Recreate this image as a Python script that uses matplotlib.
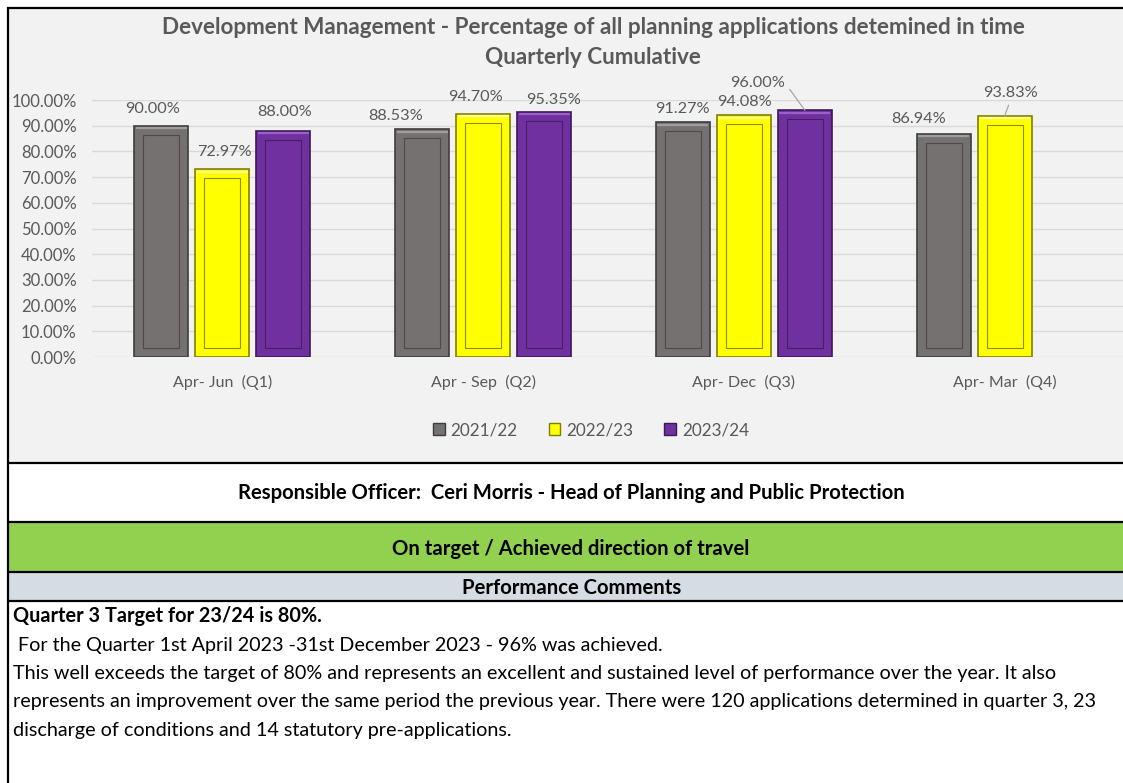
import numpy as np
import matplotlib
matplotlib.use("Agg")
import matplotlib.pyplot as plt
from matplotlib.patches import Rectangle, Patch
from matplotlib.ticker import FuncFormatter

plt.rcParams['font.family'] = ['Lato', 'DejaVu Sans']

# data
quarters = ['Apr- Jun  (Q1)', 'Apr - Sep  (Q2)', 'Apr- Dec  (Q3)', 'Apr- Mar  (Q4)']
series_names = ['2021/22', '2022/23', '2023/24']
pct_2122 = [90.00, 88.53, 91.27, 86.94]
pct_2223 = [72.97, 94.70, 94.08, 93.83]
pct_2324 = [88.00, 95.35, 96.00, np.nan]

title_lines = ["Development Management - Percentage of all planning applications detemined in time",
               "Quarterly Cumulative"]
officer = "Responsible Officer:  Ceri Morris - Head of Planning and Public Protection"
status = "On target / Achieved direction of travel"
comments_head = "Performance Comments"
comment_bold = "Quarter 3 Target for 23/24 is 80%."
comment_lines = [
    " For the Quarter 1st April 2023 -31st December 2023 - 96% was achieved.",
    "This well exceeds the target of 80% and represents an excellent and sustained level of performance over the year. It also",
    "represents an improvement over the same period the previous year. There were 120 applications determined in quarter 3, 23",
    "discharge of conditions and 14 statutory pre-applications.",
]

# styling
faces = ['#767171', '#ffff00', '#7030a0']
edges = ['#3f3d3d', '#7f7f00', '#3b1858']
inner_edges = ['#4d4a4a', '#8c8c00', '#43205f']
highlights = ['#a19d9d', '#ffff99', '#9a62c6']
# label offsets in pixels (dx, dy above bar top), as placed in the original
label_off = [
    [(-9, 17), (-26, 13), (0, 13), (-25, 15)],
    [(2, 17), (-8, 17), (1, 13), (6, 23)],
    [(1, 19), (9, 12), (-47, 27), None],
]
leaders = {(2, 2): (1.0, 0.5), (1, 3): (0.5, 0.0)}
txt_grey = '#595959'

W, H = 1123, 783
fig = plt.figure(figsize=(W / 100, H / 100), dpi=100)
fig.patch.set_facecolor('white')

# background panels in pixel coordinates
bg = fig.add_axes([0, 0, 1, 1])
bg.set_xlim(0, W)
bg.set_ylim(H, 0)
bg.axis('off')
bg.add_patch(Rectangle((8, 8), W, 455, facecolor='#f2f2f2', edgecolor='none'))
bg.add_patch(Rectangle((8, 523), W, 49, facecolor='#92d050', edgecolor='none'))
bg.add_patch(Rectangle((8, 573), W, 28, facecolor='#d6dce4', edgecolor='none'))
for yy in [8, 463, 522, 572, 601]:
    bg.plot([7, W], [yy, yy], color='black', lw=1.6, solid_capstyle='butt')
bg.plot([8, 8], [7, H], color='black', lw=1.6, solid_capstyle='butt')

for i, t in enumerate(title_lines):
    bg.text(593, 27 + i * 30, t, ha='center', va='center', fontsize=16.2, fontweight='bold',
            color=txt_grey)
bg.text(571, 493, officer, ha='center', va='center', fontsize=14.6, fontweight='bold', color='black')
bg.text(571, 549, status, ha='center', va='center', fontsize=14.6, fontweight='bold', color='black')
bg.text(572, 588, comments_head, ha='center', va='center', fontsize=14.6, fontweight='bold', color='black')
bg.text(13, 616, comment_bold, ha='left', va='center', fontsize=14.3, fontweight='bold', color='black')
for i, line in enumerate(comment_lines):
    bg.text(13, 645 + i * 28.5, line, ha='left', va='center', fontsize=14.2, color='black')

# chart axes
left, right, top, bottom = 92, W, 100, 357
cat_px = 260.75
ax = fig.add_axes([left / W, 1 - bottom / H, (right - left) / W, (bottom - top) / H])
ax.set_facecolor('none')
ax.set_xlim(-0.5, -0.5 + (right - left) / cat_px)
ax.set_ylim(0, 100)

bw = 54 / cat_px
step = 61 / cat_px
ins_x = 9 / cat_px
ins_y = 9 / 2.57
xs = np.arange(len(quarters))

for s, vals in enumerate([pct_2122, pct_2223, pct_2324]):
    vals = np.array(vals, dtype=float)
    ok = ~np.isnan(vals)
    xpos = xs[ok] + (s - 1) * step
    v = vals[ok]
    ax.bar(xpos, v, bw, color=faces[s], edgecolor=edges[s], lw=1.2, zorder=3)
    ax.bar(xpos, v - 2 * ins_y, bw - 2 * ins_x, bottom=ins_y, color=faces[s],
           edgecolor=inner_edges[s], lw=0.8, zorder=4)
    ax.hlines(v - 0.9, xpos - bw / 2 + 0.006, xpos + bw / 2 - 0.006, color=highlights[s],
              lw=1.6, zorder=5)
    for k in np.where(ok)[0]:
        x = xs[k] + (s - 1) * step
        dx, dy = label_off[s][k]
        kw = {}
        if (s, k) in leaders:
            kw['arrowprops'] = dict(arrowstyle='-', color='#a6a6a6', lw=0.9, shrinkA=2, shrinkB=0,
                                    relpos=leaders[(s, k)])
        ax.annotate(f"{vals[k]:.2f}%", xy=(x, vals[k]), xytext=(dx, dy),
                    textcoords='offset pixels', ha='center', va='center',
                    fontsize=11.7, color=txt_grey, annotation_clip=False, **kw)

ax.set_yticks(np.arange(0, 101, 10))
ax.yaxis.set_major_formatter(FuncFormatter(lambda v, p: f"{v:.2f}%"))
ax.set_xticks(xs)
ax.set_xticklabels(quarters)
ax.tick_params(axis='both', length=0, labelsize=11.5, labelcolor=txt_grey)
ax.tick_params(axis='y', pad=11, labelsize=12)
ax.tick_params(axis='x', pad=13)
ax.yaxis.grid(True, color='#d9d9d9', lw=1, zorder=0)
ax.set_axisbelow(True)
for sp in ax.spines.values():
    sp.set_visible(False)

handles = [Patch(facecolor=faces[i], edgecolor=edges[i]) for i in range(3)]
ax.legend(handles, series_names, loc='center', bbox_to_anchor=(591 / W, 1 - 430 / H),
          bbox_transform=fig.transFigure, ncol=3, frameon=False, fontsize=12.3,
          labelcolor=txt_grey, handlelength=0.7, handleheight=0.7, handletextpad=0.35,
          columnspacing=1.8)

fig.savefig('out.png', dpi=100)
